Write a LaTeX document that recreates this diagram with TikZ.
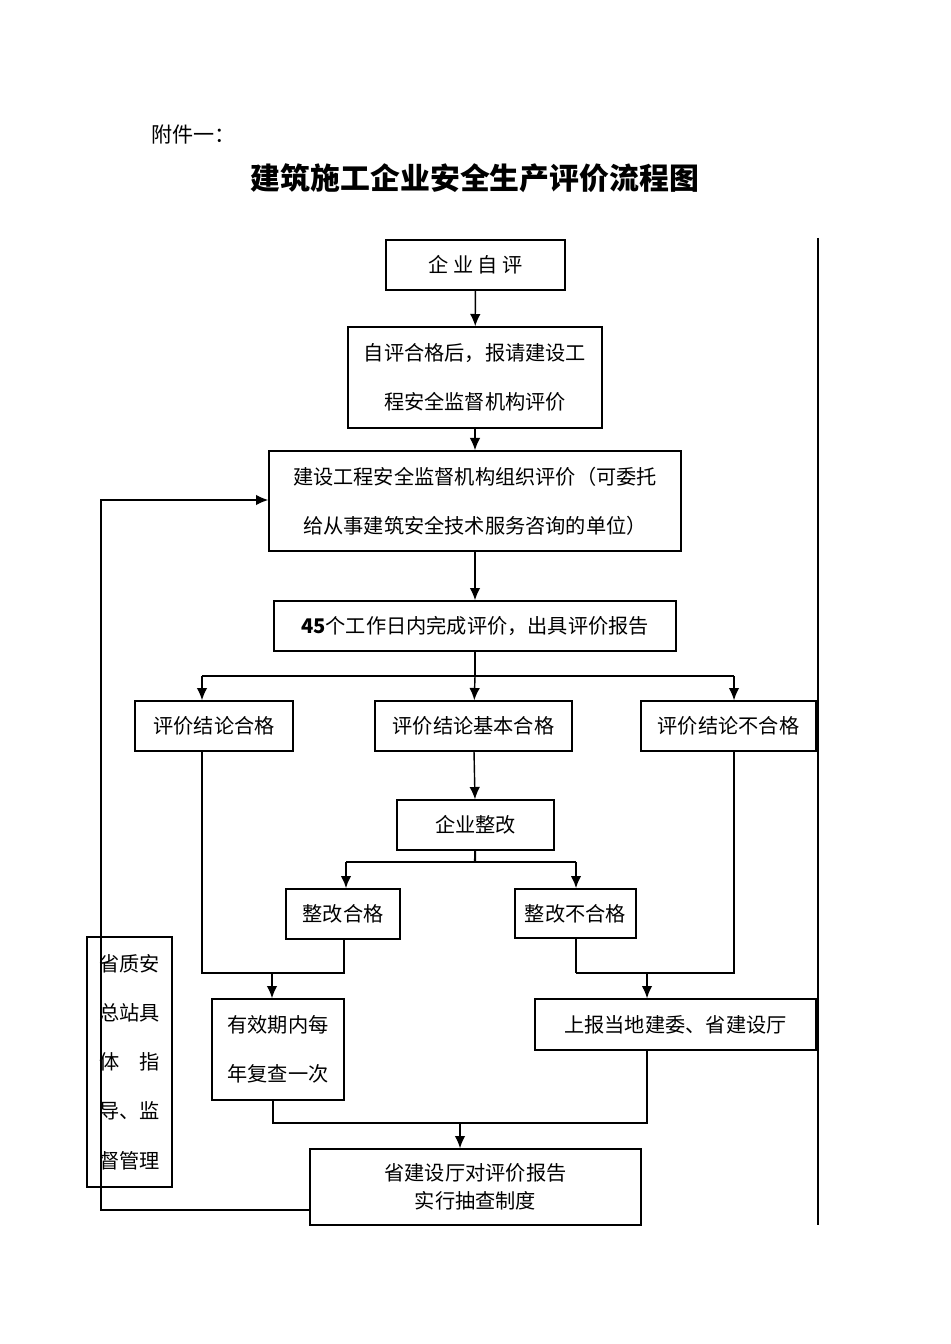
\documentclass[tikz,border=0pt]{standalone}
\usepackage{fontspec}
\setmainfont{Noto Sans CJK SC}
\usetikzlibrary{arrows.meta}
\tikzset{
  box/.style={draw, thick, inner sep=0pt, align=center, font=\fontsize{11.5pt}{14pt}\selectfont},
  arr/.style={-{Latex[length=7pt,width=6pt]}, thick},
  ln/.style={thick}
}
\begin{document}
\begin{tikzpicture}[x=0.02cm,y=-0.02cm]
            \useasboundingbox (0,0) rectangle (950,1344);
            \node[anchor=west, font=\fontsize{12pt}{14pt}\selectfont] (fj) at (145,135) {附件一：};
            \node[font=\fontsize{17pt}{20pt}\selectfont\bfseries] (title) at (475,178) {建筑施工企业安全生产评价流程图};
            \draw[ln] (818,238) -- (818,1225);
            \node[box, minimum width=179*0.02cm, minimum height=50*0.02cm] (zp) at (475.5,265) {企\ 业\ 自\ 评};
            \node[box, minimum width=254*0.02cm, minimum height=101*0.02cm, font=\fontsize{11.5pt}{28pt}\selectfont] (bq) at (475,377.5) {自评合格后，报请建设工\\程安全监督机构评价};
            \node[box, minimum width=412*0.02cm, minimum height=100*0.02cm, font=\fontsize{11.5pt}{28pt}\selectfont] (zz) at (475,501) {建设工程安全监督机构组织评价（可委托\\给从事建筑安全技术服务咨询的单位）};
            \node[box, minimum width=402*0.02cm, minimum height=50*0.02cm] (wc) at (475,626) {\textbf{45}个工作日内完成评价，出具评价报告};
            \node[box, minimum width=158*0.02cm, minimum height=50*0.02cm] (hg) at (214,726) {评价结论合格};
            \node[box, minimum width=197*0.02cm, minimum height=50*0.02cm] (jb) at (473.5,726) {评价结论基本合格};
            \node[box, minimum width=175*0.02cm, minimum height=50*0.02cm] (bhg) at (728.5,726) {评价结论不合格};
            \node[box, minimum width=157*0.02cm, minimum height=50*0.02cm] (zg) at (475.5,825) {企业整改};
            \node[box, minimum width=114*0.02cm, minimum height=50*0.02cm] (zghg) at (343,914) {整改合格};
            \node[box, minimum width=121*0.02cm, minimum height=49*0.02cm] (zgbhg) at (575.5,913.5) {整改不合格};
            \node[box, minimum width=132*0.02cm, minimum height=101*0.02cm, font=\fontsize{11.5pt}{28pt}\selectfont] (yx) at (278,1049.5) {有效期内每\\年复查一次};
            \node[box, minimum width=281*0.02cm, minimum height=51*0.02cm] (sb) at (675.5,1024.5) {上报当地建委、省建设厅};
            \node[box, minimum width=331*0.02cm, minimum height=76*0.02cm, font=\fontsize{11.5pt}{16pt}\selectfont] (cc) at (475.5,1187) {省建设厅对评价报告\\实行抽查制度};
            \node[box, minimum width=85*0.02cm, minimum height=250*0.02cm, font=\fontsize{11.5pt}{28pt}\selectfont] (zaz) at (129.5,1062) {省质安\\总站具\\体\hspace{1em}指\\导、监\\督管理};
            % connectors
            \coordinate (s1) at (475,676);
            \coordinate (s1l) at (202,676);
            \coordinate (s1r) at (734,676);
            \coordinate (s2) at (475,862);
            \coordinate (s2l) at (346,862);
            \coordinate (s2r) at (576,862);
            \coordinate (m1l) at (202,973);
            \coordinate (m1r) at (344,973);
            \coordinate (m1) at (272,973);
            \coordinate (m2l) at (576,973);
            \coordinate (m2r) at (734,973);
            \coordinate (m2) at (647,973);
            \coordinate (b1) at (273,1123);
            \coordinate (b2) at (647,1123);
            \coordinate (b) at (460,1123);
            \coordinate (f1) at (101,1210);
            \coordinate (f2) at (101,500);
            \draw[arr] (zp) -- (bq);
            \draw[arr] (bq) -- (zz);
            \draw[arr] (zz) -- (wc);
            \draw[ln] (wc) -- (s1);
            \draw[ln] (s1l) -- (s1r);
            \draw[arr] (s1l) -- (s1l |- hg.north);
            \draw[arr] (s1) -- (jb);
            \draw[arr] (s1r) -- (s1r |- bhg.north);
            \draw[arr] (jb) -- (zg);
            \draw[very thick] (zg) -- (s2);
            \draw[very thick] (s2l) -- (s2r);
            \draw[arr, very thick] (s2l) -- (s2l |- zghg.north);
            \draw[arr, very thick] (s2r) -- (s2r |- zgbhg.north);
            \draw[ln] (hg.south -| m1l) -- (m1l) -- (m1r) -- (zghg.south -| m1r);
            \draw[arr] (m1) -- (m1 |- yx.north);
            \draw[ln] (bhg.south -| m2r) -- (m2r) -- (m2l);
            \draw[very thick] (zgbhg.south -| m2l) -- (m2l);
            \draw[arr] (m2) -- (m2 |- sb.north);
            \draw[ln] (yx.south -| b1) -- (b1) -- (b2) -- (sb.south -| b2);
            \draw[arr] (b) -- (b |- cc.north);
            \draw[arr] (cc.west |- f1) -- (f1) -- (f2) -- (zz.west |- f2);
\end{tikzpicture}
\end{document}
